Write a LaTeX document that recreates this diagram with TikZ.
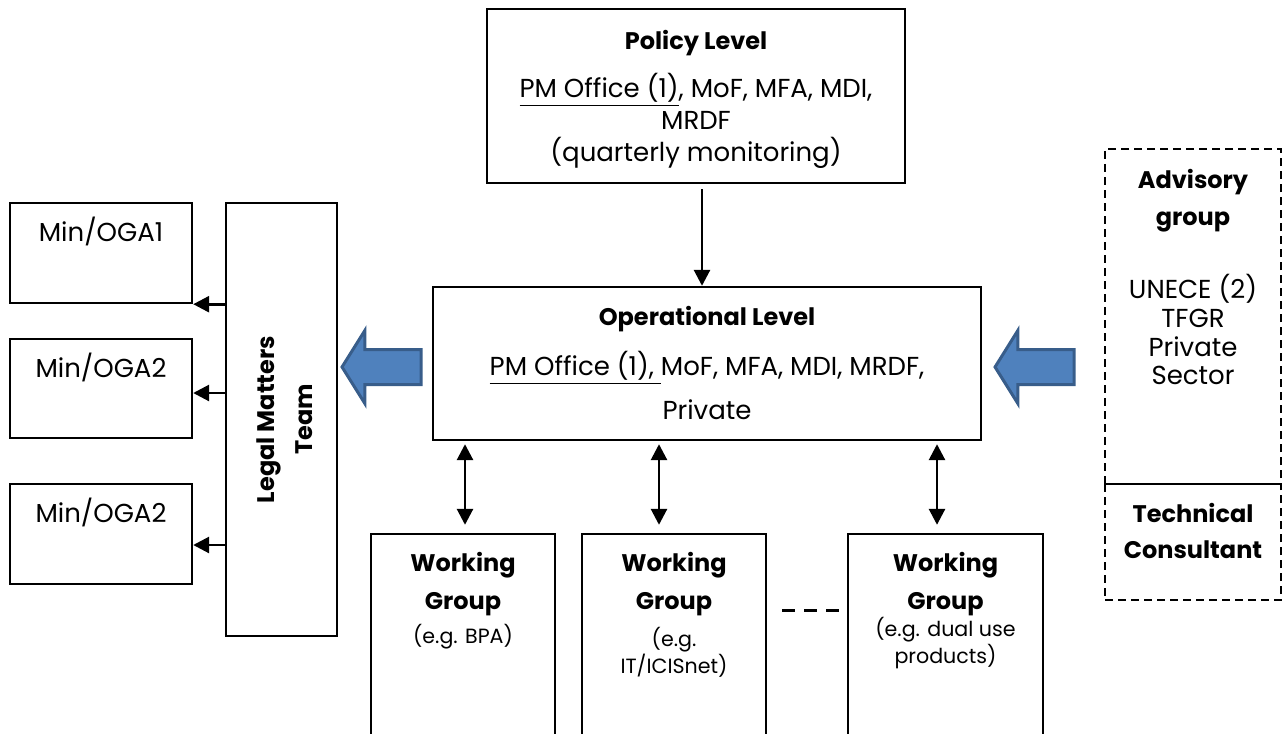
\documentclass[tikz,border=0pt]{standalone}
\usepackage{fontspec}
\setmainfont{Poppins}
\usetikzlibrary{positioning, shapes.arrows, arrows.meta}
\definecolor{blockfill}{RGB}{79,129,189}
\definecolor{blockline}{RGB}{56,93,138}

\begin{document}
\begin{tikzpicture}[x=0.5pt, y=-0.5pt,
    box/.style={draw, line width=1.2pt, inner sep=0pt},
    dbox/.style={draw, dash pattern=on 4pt off 2.5pt, line width=0.8pt, inner sep=0pt},
    txt/.style={inner sep=0pt, align=center, font=\fontsize{13}{16}\selectfont},
    head/.style={txt, font=\bfseries\fontsize{12}{19}\selectfont},
    small/.style={txt, font=\fontsize{10.3}{13.5}\selectfont},
    link/.style={line width=1.4pt, -{Triangle[length=8pt,width=8pt]}},
    both/.style={line width=1.4pt, {Triangle[length=8pt,width=8pt]}-{Triangle[length=8pt,width=8pt]}, shorten <=1.5pt, shorten >=4pt},
    block/.style={single arrow, shape border rotate=180, draw=blockline, fill=blockfill, line width=1.5pt,
      minimum height=39.5pt, inner xsep=0pt, inner ysep=8pt, single arrow head extend=9.5pt, single arrow tip angle=116}
  ]
  \useasboundingbox (0,0) rectangle (1283,733);
  \clip (0,0) rectangle (1283,733);

  \node[box, minimum width=209pt, minimum height=87pt] (policy) at (696,96) {};
  \node[head, below=11pt of policy.north] (policyT) {Policy Level};
  \node[txt, below=32.5pt of policy.north] (policyB) {\underline{PM Office (1)}, MoF, MFA, MDI,\\MRDF\\(quarterly monitoring)};

  \node[box, minimum width=274pt, minimum height=76.5pt] (oper) at (707,363.5) {};
  \node[head, below=10pt of oper.north] (operT) {Operational Level};
  \node[txt, font=\fontsize{13}{22}\selectfont, below=32.5pt of oper.north] (operB) {\underline{PM Office (1),~}MoF, MFA, MDI, MRDF,\\Private};

  \node[box, minimum width=91pt, minimum height=50pt] (mina) at (101,253) {};
  \node[txt, below=7.5pt of mina.north] (minaT) {Min/OGA1};
  \node[box, minimum width=91pt, minimum height=49.5pt] (minb) at (101,388.5) {};
  \node[txt, below=7.5pt of minb.north] (minbT) {Min/OGA2};
  \node[box, minimum width=91pt, minimum height=50pt] (minc) at (101,534) {};
  \node[txt, below=7.5pt of minc.north] (mincT) {Min/OGA2};

  \node[box, minimum width=55.5pt, minimum height=216.5pt] (legal) at (281.5,419.5) {};
  \node[head, rotate=90] (legalT) at ([xshift=1.5pt]legal.center) {Legal Matters\\Team};

  \node[box, minimum width=92pt, minimum height=120pt] (wg1) at (463,654) {};
  \node[head, below=9.5pt of wg1.north] (wg1T) {Working\\Group};
  \node[small, below=45.5pt of wg1.north] (wg1B) {(e.g. BPA)};
  \node[box, minimum width=92pt, minimum height=120pt] (wg2) at (674,654) {};
  \node[head, below=9.5pt of wg2.north] (wg2T) {Working\\Group};
  \node[small, below=47pt of wg2.north] (wg2B) {(e.g.\\IT/ICISnet)};
  \node[box, minimum width=97.5pt, minimum height=120pt] (wg3) at (945.5,654) {};
  \node[head, below=9.5pt of wg3.north] (wg3T) {Working\\Group};
  \node[small, below=42pt of wg3.north] (wg3B) {(e.g. dual use\\products)};

  \node[dbox, minimum width=88pt, minimum height=167.5pt] (advis) at (1193,316.5) {};
  \node[head, font=\bfseries\fontsize{12}{18.5}\selectfont, below=10.5pt of advis.north] (advisT) {Advisory\\group};
  \node[txt, font=\fontsize{13}{14.3}\selectfont, below=63pt of advis.north] (advisB) {UNECE (2)\\TFGR\\Private\\Sector};
  \node[dbox, minimum width=88pt, minimum height=58pt] (tech) at (1193,542) {};
  \node[head, font=\bfseries\fontsize{12}{18}\selectfont, below=10pt of tech.north] (techT) {Technical\\Consultant};

  \node[block] (barl) at (387,367) {};
  \node[block] (barr) at (1040,367) {};

  \coordinate (pa) at ([xshift=3pt]policy.south);
  \draw[link, shorten <=2.5pt] (pa) -- (pa |- oper.north);

  \coordinate (ta) at (mina.south east);
  \coordinate (tb) at ([yshift=-2.25pt]minb.east);
  \coordinate (tc) at ([yshift=-5.5pt]minc.east);
  \draw[link] (ta -| legal.west) -- (ta);
  \draw[link] (tb -| legal.west) -- (tb);
  \draw[link] (tc -| legal.west) -- (tc);

  \coordinate (wa) at ([xshift=1pt]wg1.north);
  \coordinate (wb) at ([xshift=-7.5pt]wg2.north);
  \coordinate (wc) at ([xshift=-4.25pt]wg3.north);
  \draw[both] (wa |- oper.south) -- (wa);
  \draw[both] (wb |- oper.south) -- (wb);
  \draw[both] (wc |- oper.south) -- (wc);

  \draw[line width=1.5pt, dash pattern=on 6.5pt off 4.5pt, shorten <=7.5pt, shorten >=3.5pt]
    ([yshift=-39pt]wg2.north east) -- ([yshift=-39pt]wg3.north west);
\end{tikzpicture}
\end{document}
